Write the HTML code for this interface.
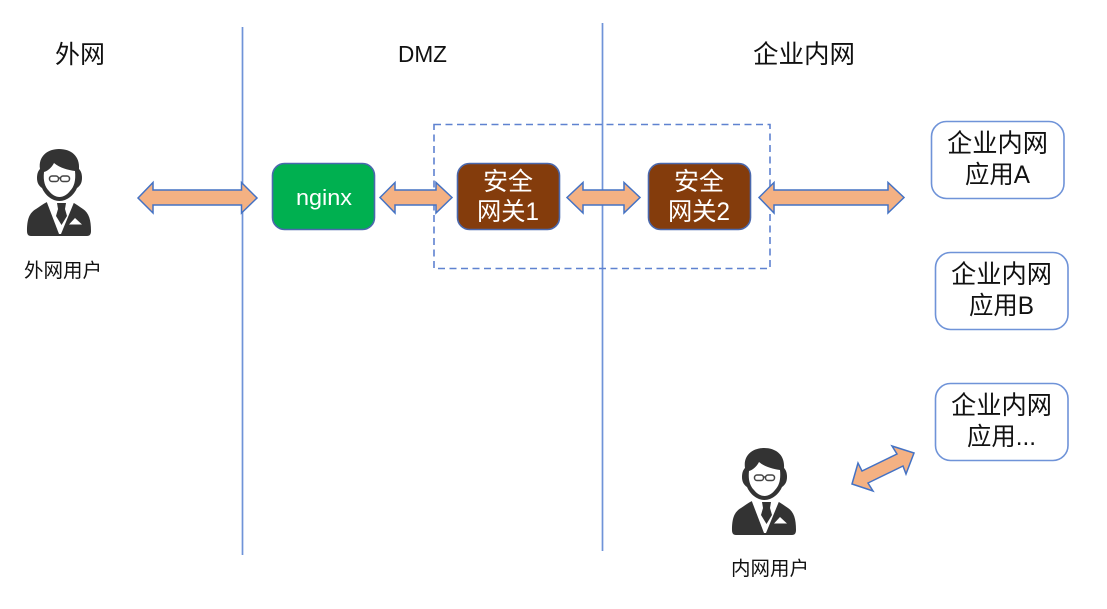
<!DOCTYPE html>
<html><head><meta charset="utf-8"><style>
html,body{margin:0;padding:0;background:#fff;width:1107px;height:609px;overflow:hidden}
svg{display:block;filter:blur(0.35px)}
text{font-family:"Liberation Sans","Noto Sans CJK SC",sans-serif;text-anchor:middle}
.w{fill:#fff}.k{fill:#111}
.a{fill:#F4B183;stroke:#4472C4;stroke-width:1.5;stroke-linejoin:miter}
.b{stroke:#4A68AD;stroke-width:1.6}
.o{fill:#fff;stroke:#6F93D8;stroke-width:1.6}
</style></head><body>
<svg width="1107" height="609" viewBox="0 0 1107 609" xmlns="http://www.w3.org/2000/svg">
<defs>
<g id="p">
<path fill="#333" d="M27 231 C27 220 29 213 36 209 C39 207 43 204 47 202 L52 200 H67 L72 202 C76 204 80 207 83 209 C89 213 91 220 91 231 C91 234 90 236 87 236 H31 C28 236 27 234 27 231Z"/>
<path fill="#fff" d="M46 200 L59 234 L61 234 L75 200Z"/>
<path fill="#333" d="M57 203 H66 L65 209 L67 216 L61.500 225 L56 216 L58 209Z"/>
<path fill="#333" d="M37 178 C37 174 38 171 40 169 C38 156 48 149 59 149 C71 149 80 156 79 169 C81 171 82 174 82 178 C82 183 80 186 77 188 C74 195 67 201 59.500 201 C52 201 45 195 42 188 C39 186 37 183 37 178Z"/>
<path fill="#fff" d="M44 172 C48 171 52 167 54 163 C60 168 68 170 75 171 C76 181 74 187 70 191 C67 195 63 197 59.500 197 C56 197 52 195 49 191 C45 187 43 181 44 172Z"/>
<rect x="49.500" y="176" width="9" height="5.500" rx="2.500" fill="#fff" stroke="#444" stroke-width="1.500"/>
<rect x="60.500" y="176" width="9" height="5.500" rx="2.500" fill="#fff" stroke="#444" stroke-width="1.500"/>
<path d="M58.500 178 H60.500" stroke="#444" stroke-width="1.500"/>
<path fill="#fff" d="M69 224.500 L75 218 L82 224.500Z"/>
</g>
</defs>

<path d="M242.500 27 V555" stroke="#6F93D8" stroke-width="1.700" fill="none"/>
<path d="M602.500 23 V551" stroke="#6F93D8" stroke-width="1.700" fill="none"/>
<rect x="434" y="124.500" width="336" height="144" fill="none" stroke="#5F82D0" stroke-width="1.600" stroke-dasharray="7 4.500"/>

<text class="k" x="80" y="63" font-size="25" textLength="50" lengthAdjust="spacingAndGlyphs">外网</text>
<text class="k" x="422.500" y="62" font-size="23" textLength="49" lengthAdjust="spacingAndGlyphs">DMZ</text>
<text class="k" x="804" y="63" font-size="25.500" textLength="102" lengthAdjust="spacingAndGlyphs">企业内网</text>

<use href="#p"/>
<use href="#p" transform="translate(705 299)"/>
<text class="k" x="63" y="277" font-size="19.500" textLength="78" lengthAdjust="spacingAndGlyphs">外网用户</text>
<text class="k" x="770" y="575" font-size="19.500" textLength="78" lengthAdjust="spacingAndGlyphs">内网用户</text>

<path class="a" d="M138 198 L153 182.500 V190 H241.500 V182.500 L257 198 L241.500 213 V205 H153 V213Z"/>
<path class="a" d="M380 197.500 L395 182.500 V190 H436 V182.500 L452 197.500 L436 213 V205 H395 V213Z"/>
<path class="a" d="M567 197.500 L583 182.500 V190 H624 V182.500 L640 197.500 L624 213 V205 H583 V213Z"/>
<path class="a" d="M759 197.500 L774 182.500 V190 H888 V182.500 L904 197.500 L888 213 V205 H774 V213Z"/>
<path class="a" d="M852 484 L858 463 L862 471 L897 454 L892 446 L914 453 L906 474 L903 466 L868 483 L873 491Z"/>

<rect class="b" x="272.500" y="163.500" width="102" height="66" rx="12" fill="#00B050"/>
<text class="w" x="324" y="205" font-size="22" textLength="56" lengthAdjust="spacingAndGlyphs">nginx</text>

<rect class="b" x="457.500" y="163.500" width="102" height="66" rx="12" fill="#843C0C"/>
<text class="w" x="508" y="190" font-size="25" textLength="50" lengthAdjust="spacingAndGlyphs">安全</text>
<text class="w" x="508" y="220" font-size="25" textLength="62" lengthAdjust="spacingAndGlyphs">网关1</text>

<rect class="b" x="648.500" y="163.500" width="102" height="66" rx="12" fill="#843C0C"/>
<text class="w" x="699" y="190" font-size="25" textLength="50" lengthAdjust="spacingAndGlyphs">安全</text>
<text class="w" x="699" y="220" font-size="25" textLength="62" lengthAdjust="spacingAndGlyphs">网关2</text>

<rect class="o" x="931.500" y="121.500" width="132.500" height="77" rx="15"/>
<text class="k" x="997.500" y="152" font-size="25.500" textLength="101" lengthAdjust="spacingAndGlyphs">企业内网</text>
<text class="k" x="997.500" y="183" font-size="25" textLength="65" lengthAdjust="spacingAndGlyphs">应用A</text>

<rect class="o" x="935.500" y="252.500" width="132.500" height="77" rx="15"/>
<text class="k" x="1001.500" y="283" font-size="25.500" textLength="101" lengthAdjust="spacingAndGlyphs">企业内网</text>
<text class="k" x="1001.500" y="314" font-size="25" textLength="65" lengthAdjust="spacingAndGlyphs">应用B</text>

<rect class="o" x="935.500" y="383.500" width="132.500" height="77" rx="15"/>
<text class="k" x="1001.500" y="414" font-size="25.500" textLength="101" lengthAdjust="spacingAndGlyphs">企业内网</text>
<text class="k" x="1001.500" y="445" font-size="25" textLength="69" lengthAdjust="spacingAndGlyphs">应用...</text>
</svg>
</body></html>
